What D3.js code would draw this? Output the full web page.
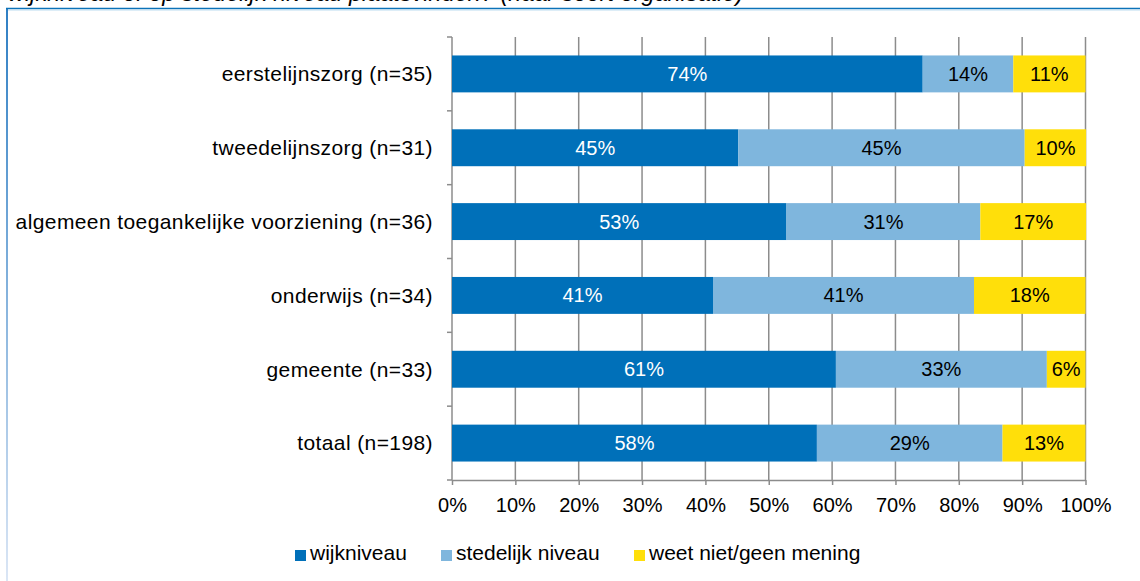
<!DOCTYPE html>
<html>
<head>
<meta charset="utf-8">
<script src="https://d3js.org/d3.v7.min.js"></script>
<style>
  body { margin: 0; background: #fff; }
  text { font-family: "Liberation Sans", Arial, sans-serif; }
</style>
</head>
<body>
<svg id="chart"></svg>
<script>
// data (percentages per group)
const categories = [
  "eerstelijnszorg (n=35)",
  "tweedelijnszorg (n=31)",
  "algemeen toegankelijke voorziening (n=36)",
  "onderwijs (n=34)",
  "gemeente (n=33)",
  "totaal (n=198)"
];
const seriesNames = ["wijkniveau", "stedelijk niveau", "weet niet/geen mening"];
const wijkniveau = [74.3, 45.2, 52.8, 41.2, 60.6, 57.6];
const stedelijk = [14.3, 45.2, 30.6, 41.2, 33.3, 29.3];
const weetNiet = [11.4, 9.7, 16.7, 17.6, 6.1, 13.1];
const xTicks = [0, 10, 20, 30, 40, 50, 60, 70, 80, 90, 100];
const colors = ["#0070b9", "#7fb6dd", "#ffdf0a"];
const labelColors = ["#fff", "#000", "#000"];

const W = 1140, H = 581;
const FS = "20px";
const svg = d3.select("#chart").attr("width", W).attr("height", H);

// frame + cut off title
const grad = svg.append("defs").append("linearGradient")
  .attr("id", "lg").attr("x1", 0).attr("y1", 0).attr("x2", 0).attr("y2", 1);
grad.append("stop").attr("offset", "0%").attr("stop-color", "#2f7fc4");
grad.append("stop").attr("offset", "100%").attr("stop-color", "#dbe6f5");
svg.append("rect").attr("x", 6).attr("y", 8).attr("width", 2).attr("height", H - 8).attr("fill", "url(#lg)");
svg.append("line").attr("x1", 6).attr("x2", W).attr("y1", 8.5).attr("y2", 8.5)
  .attr("stroke", "#0b72b8").attr("stroke-width", 1.5);
svg.append("line").attr("x1", 8).attr("x2", W).attr("y1", 10).attr("y2", 10)
  .attr("stroke", "#bcdcf0").attr("stroke-width", 1);
svg.append("text").attr("x", 8).attr("y", 1)
  .style("font-size", "23.5px").style("font-style", "italic").attr("fill", "#000")
  .text("wijkniveau of op stedelijk niveau plaatsvinden? (naar soort organisatie)");

const plotL = 452, plotR = 1085.5, plotT = 37, plotB = 480;
const x = d3.scaleLinear().domain([0, 100]).range([plotL, plotR]);
const y = d3.scaleBand().domain(categories).range([plotT, plotB])
  .paddingInner(0.5).paddingOuter(0.25);

// vertical gridlines
svg.append("g").selectAll("line").data(xTicks.slice(1)).join("line")
  .attr("x1", d => x(d)).attr("x2", d => x(d))
  .attr("y1", plotT).attr("y2", plotB)
  .attr("stroke", "#8c8c8c").attr("stroke-width", 1.5);

// x axis
const xAxis = svg.append("g").attr("transform", `translate(0,${plotB})`)
  .call(d3.axisBottom(x).tickValues(xTicks).tickFormat(d => d + "%").tickSize(5).tickSizeOuter(0));
xAxis.select(".domain").attr("stroke", "#8c8c8c").attr("stroke-width", 1.5);
xAxis.selectAll(".tick line").attr("stroke", "#8c8c8c").attr("stroke-width", 1.5);
xAxis.selectAll(".tick text").attr("dy", "0").attr("y", 32)
  .style("font-size", FS).style("font-family", "Liberation Sans, Arial, sans-serif").attr("fill", "#000");

// y axis with boundary ticks
svg.append("line").attr("x1", plotL).attr("x2", plotL).attr("y1", plotT).attr("y2", plotB)
  .attr("stroke", "#8c8c8c").attr("stroke-width", 1.5);
const step = y.step();
const bounds = d3.range(categories.length + 1).map(i => plotT + i * step);
svg.append("g").selectAll("line").data(bounds).join("line")
  .attr("x1", plotL - 5).attr("x2", plotL)
  .attr("y1", d => d).attr("y2", d => d)
  .attr("stroke", "#8c8c8c").attr("stroke-width", 1.5);
svg.append("g").selectAll("text").data(categories).join("text")
  .attr("x", 433).attr("y", d => y(d) + y.bandwidth() / 2)
  .attr("dy", "0.35em").attr("text-anchor", "end")
  .style("font-size", "21px").style("letter-spacing", "0.4px").attr("fill", "#000")
  .text(d => d);

// stacked bars
const rows = categories.map((c, i) => ({ cat: c, vals: [wijkniveau[i], stedelijk[i], weetNiet[i]] }));
rows.forEach(r => {
  let acc = 0;
  r.vals.forEach((v, k) => {
    const x0 = x(acc), x1 = x(acc + v);
    svg.append("rect").attr("x", x0).attr("y", y(r.cat))
      .attr("width", x1 - x0).attr("height", y.bandwidth()).attr("fill", colors[k]);
    svg.append("text").attr("x", (x0 + x1) / 2).attr("y", y(r.cat) + y.bandwidth() / 2)
      .attr("dy", "0.35em").attr("text-anchor", "middle")
      .style("font-size", FS).attr("fill", labelColors[k])
      .text(Math.round(v) + "%");
    acc += v;
  });
});

// legend
const legendX = [295, 441, 634];
const lg = svg.append("g");
seriesNames.forEach((s, k) => {
  lg.append("rect").attr("x", legendX[k]).attr("y", 550).attr("width", 11).attr("height", 11).attr("fill", colors[k]);
  lg.append("text").attr("x", legendX[k] + 15).attr("y", 560)
    .style("font-size", "21px").attr("fill", "#000").text(s);
});
</script>
</body>
</html>
